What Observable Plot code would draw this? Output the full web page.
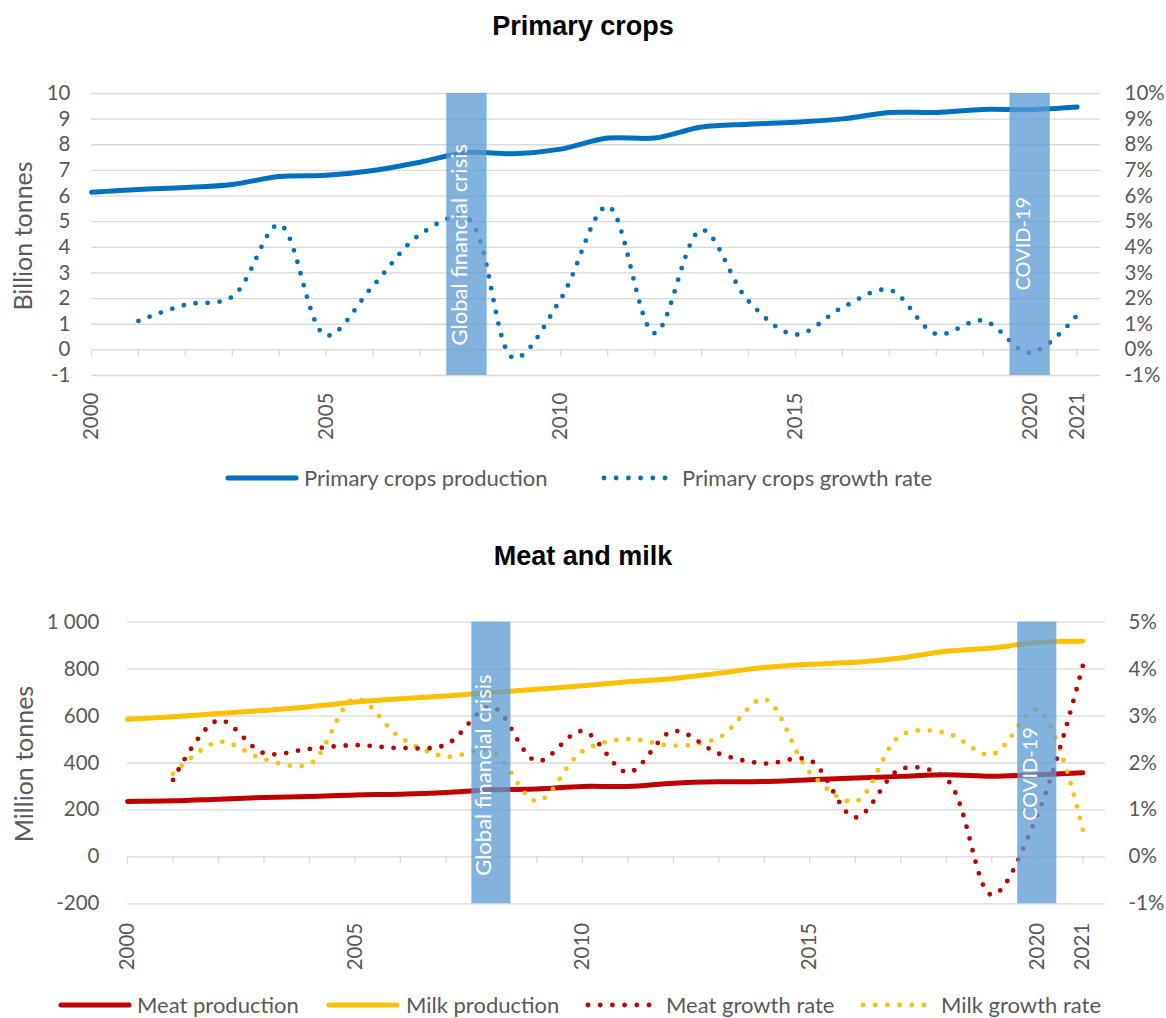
<!DOCTYPE html>
<html><head><meta charset="utf-8">
<script src="https://cdn.jsdelivr.net/npm/d3@7"></script>
<script src="https://cdn.jsdelivr.net/npm/@observablehq/plot@0.6"></script>
<style>
body{margin:0;background:#fff;}
#root{position:relative;width:1166px;height:1018px;overflow:hidden;font-family:Lato,sans-serif;color:#595959;}
.abs{position:absolute;}
.title{font-family:"Liberation Sans",Arial,sans-serif;font-weight:bold;font-size:27px;color:#000;width:1166px;text-align:center;left:0;line-height:1;}
.ytitle{font-size:25px;white-space:nowrap;transform:translate(-50%,-50%) rotate(-90deg);line-height:1;}
.legtext{font-size:22px;white-space:nowrap;line-height:1;transform:translateY(-50%);}
.sw{transform:translateY(-50%);}
</style></head>
<body><div id="root"></div>
<script>
// ---------- data ----------
const years = [2000,2001,2002,2003,2004,2005,2006,2007,2008,2009,2010,2011,2012,2013,2014,2015,2016,2017,2018,2019,2020,2021];
const growthYears = [2001,2002,2003,2004,2005,2006,2007,2008,2009,2010,2011,2012,2013,2014,2015,2016,2017,2018,2019,2020,2021];
const yearTicks = [2000,2005,2010,2015,2020,2021];

// Primary crops (billion tonnes) and growth rate (%)
const cropProduction = [6.15,6.26,6.33,6.45,6.76,6.81,7.0,7.32,7.7,7.65,7.83,8.26,8.26,8.69,8.8,8.88,9.01,9.26,9.26,9.38,9.37,9.47];
const cropGrowth = [1.13,1.76,2.07,4.88,0.56,2.5,4.5,5.15,-0.32,1.99,5.6,0.65,4.68,1.9,0.6,1.65,2.34,0.62,1.14,-0.12,1.35];

// Meat and milk (million tonnes) and growth rates (%)
const meatProduction = [236,239,246,253,257,264,267,274,286,289,300,300,314,320,321,329,336,343,350,343,350,358];
const milkProduction = [586,597,611,624,640,660,674,686,700,714,729,746,760,783,807,821,829,847,876,890,914,919];
const meatGrowth = [1.64,2.91,2.21,2.3,2.38,2.32,2.39,3.2,2.04,2.68,1.8,2.68,2.2,1.99,2.06,0.84,1.87,1.66,-0.81,0.89,4.07];
const milkGrowth = [1.77,2.45,2.08,1.98,3.37,2.54,2.14,2.25,1.19,2.25,2.51,2.37,2.54,3.36,1.8,1.18,2.59,2.64,2.18,3.14,0.57];

const events = [{name:"Global financial crisis", year:2008},{name:"COVID-19", year:2020}];
const cropTicks = [-1,0,1,2,3,4,5,6,7,8,9,10];
const mmTicks = [-200,0,200,400,600,800,1000];

// ---------- colours ----------
const BLUE="#0070C0", RED="#C00000", GOLD="#FFC000", GRID="#D9D9D9", TXT="#595959", BAND="#5B9BD5";
const bandHalf = 0.43;
const dotStyle = {strokeWidth:4.8, strokeDasharray:"0 12", strokeLinecap:"round", curve:"catmull-rom"};
const TICKFS = 20.5;

const root = document.getElementById("root");
function add(html){ root.insertAdjacentHTML("beforeend", html); }
const hyphen = s => s.replace(/\u2212/g, "-");

// ---------- top chart ----------
const cropRows = years.map((year,i)=>({year, v:cropProduction[i]}));
const cropGRows = growthYears.map((year,i)=>({year, g:cropGrowth[i]}));

const chartTop = Plot.plot({
  width:1166, height:405, marginTop:33, marginBottom:90, marginLeft:91, marginRight:66,
  x:{domain:[2000,2021.5], axis:null},
  y:{domain:[-1,10], axis:null},
  style:{fontFamily:"Lato, sans-serif", color:TXT, background:"transparent", overflow:"visible"},
  marks:[
    Plot.ruleY(cropTicks, {y:d=>d, stroke:GRID, strokeWidth:1.3}),
    Plot.ruleX(years, {x:d=>d, y1:0, y2:0, insetBottom:-7, stroke:GRID, strokeWidth:1.3}),
    Plot.axisY({anchor:"left", ticks:cropTicks, tickSize:0, tickPadding:21, fontSize:TICKFS, tickFormat:d=>String(d), label:null}),
    Plot.axisY({anchor:"right", ticks:cropTicks, tickSize:0, tickPadding:24, fontSize:TICKFS, tickFormat:d=>d+"%", label:null}),
    Plot.axisX({ticks:yearTicks, tickRotate:-90, tickSize:0, tickPadding:17, fontSize:TICKFS, tickFormat:d=>String(d), label:null}),
    Plot.line(cropGRows, {x:"year", y:"g", stroke:BLUE, ...dotStyle}),
    Plot.line(cropRows, {x:"year", y:"v", stroke:BLUE, strokeWidth:5, curve:"catmull-rom", strokeLinecap:"round"}),
    Plot.rect(events, {x1:d=>d.year-bandHalf, x2:d=>d.year+bandHalf, fill:BAND, fillOpacity:0.76}),
    Plot.text(events, {filter:d=>d.name!=="COVID-19", x:"year", text:"name", frameAnchor:"bottom", rotate:-90, textAnchor:"start", dy:-30, fill:"white", fontSize:22}),
    Plot.text(events, {filter:d=>d.name==="COVID-19", x:"year", text:"name", frameAnchor:"bottom", rotate:-90, textAnchor:"start", dy:-85, fill:"white", fontSize:20})
  ]
});
chartTop.style.position="absolute"; chartTop.style.left="0px"; chartTop.style.top="60px";
root.appendChild(chartTop);

// ---------- bottom chart ----------
const meatRows = years.map((year,i)=>({year, v:meatProduction[i]}));
const milkRows = years.map((year,i)=>({year, v:milkProduction[i]}));
const meatGRows = growthYears.map((year,i)=>({year, g:meatGrowth[i]}));
const milkGRows = growthYears.map((year,i)=>({year, g:milkGrowth[i]}));
const pct = 200; // 1% on the right axis = 200 Mt on the left axis

const chartBottom = Plot.plot({
  width:1166, height:393.3, marginTop:31.7, marginBottom:80, marginLeft:127, marginRight:61,
  x:{domain:[2000,2021.5], axis:null},
  y:{domain:[-200,1000], axis:null},
  style:{fontFamily:"Lato, sans-serif", color:TXT, background:"transparent", overflow:"visible"},
  marks:[
    Plot.ruleY(mmTicks, {y:d=>d, stroke:GRID, strokeWidth:1.3}),
    Plot.ruleX(years, {x:d=>d, y1:0, y2:0, insetBottom:-7, stroke:GRID, strokeWidth:1.3}),
    Plot.axisY({anchor:"left", ticks:mmTicks, tickSize:0, tickPadding:28, fontSize:TICKFS, tickFormat:d=>hyphen(d3.format(",")(d)).replace(","," "), label:null}),
    Plot.axisY({anchor:"right", ticks:mmTicks, tickSize:0, tickPadding:23, fontSize:TICKFS, tickFormat:d=>(d/pct)+"%", label:null}),
    Plot.axisX({ticks:yearTicks, tickRotate:-90, tickSize:0, tickPadding:19, fontSize:TICKFS, tickFormat:d=>String(d), label:null}),
    Plot.line(meatRows, {x:"year", y:"v", stroke:RED, strokeWidth:5, curve:"catmull-rom", strokeLinecap:"round"}),
    Plot.line(milkRows, {x:"year", y:"v", stroke:GOLD, strokeWidth:5, curve:"catmull-rom", strokeLinecap:"round"}),
    Plot.line(milkGRows, {x:"year", y:d=>d.g*pct, stroke:GOLD, ...dotStyle}),
    Plot.line(meatGRows, {x:"year", y:d=>d.g*pct, stroke:RED, ...dotStyle}),
    Plot.rect(events, {x1:d=>d.year-bandHalf, x2:d=>d.year+bandHalf, fill:BAND, fillOpacity:0.76}),
    Plot.text(events, {filter:d=>d.name!=="COVID-19", x:"year", text:"name", frameAnchor:"bottom", rotate:-90, textAnchor:"start", dy:-28, fill:"white", fontSize:22}),
    Plot.text(events, {filter:d=>d.name==="COVID-19", x:"year", text:"name", frameAnchor:"bottom", rotate:-90, textAnchor:"start", dy:-83, fill:"white", fontSize:20})
  ]
});
chartBottom.style.position="absolute"; chartBottom.style.left="0px"; chartBottom.style.top="590px";
root.appendChild(chartBottom);

// ---------- titles ----------
add(`<div class="abs title" style="top:13px">Primary crops</div>`);
add(`<div class="abs title" style="top:543px">Meat and milk</div>`);
add(`<div class="abs ytitle" style="left:22px;top:236px">Billion tonnes</div>`);
add(`<div class="abs ytitle" style="left:23px;top:764px">Million tonnes</div>`);

// ---------- legends ----------
function solid(x,y,w,color){ add(`<svg class="abs sw" style="left:${x}px;top:${y}px" width="${w}" height="8"><line x1="3" x2="${w-3}" y1="4" y2="4" stroke="${color}" stroke-width="5" stroke-linecap="round"/></svg>`); }
function dotted(x,y,w,color){ add(`<svg class="abs sw" style="left:${x}px;top:${y}px" width="${w}" height="8"><line x1="3" x2="${w-2}" y1="4" y2="4" stroke="${color}" stroke-width="4.8" stroke-dasharray="0 12.2" stroke-linecap="round"/></svg>`); }
function label(x,y,t){ add(`<div class="abs legtext" style="left:${x}px;top:${y}px">${t}</div>`); }

solid(225,478,74,BLUE); label(304,478,"Primary crops production");
dotted(601,478,70,BLUE); label(682,478,"Primary crops growth rate");

solid(58,1005,74,RED); label(137,1005,"Meat production");
solid(326,1005,74,GOLD); label(406,1005,"Milk production");
dotted(585,1005,70,RED); label(666,1005,"Meat growth rate");
dotted(860,1005,70,GOLD); label(941,1005,"Milk growth rate");
</script>
</body></html>
